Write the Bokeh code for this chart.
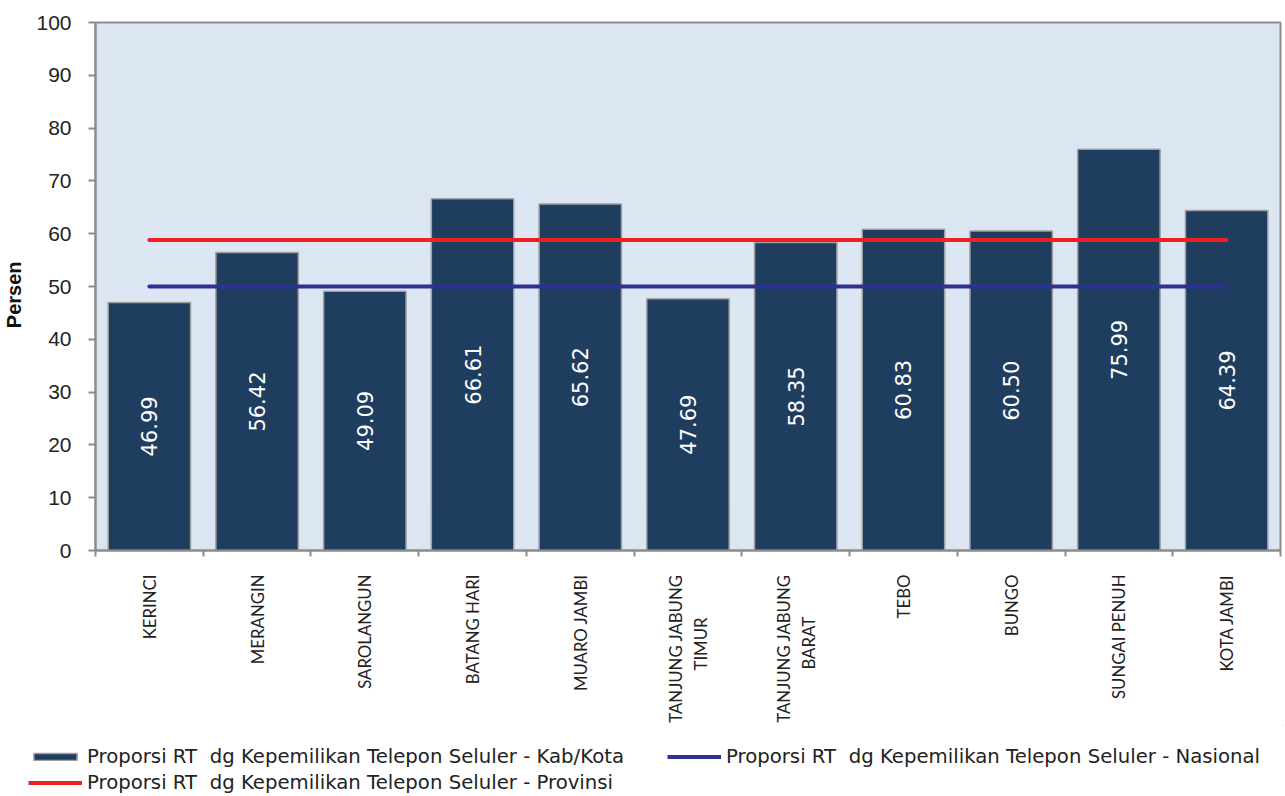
import math
from bokeh.plotting import figure
from bokeh.layouts import column
from bokeh.models import ColumnDataSource, FixedTicker, Legend, LegendItem, Range1d
from bokeh.core.properties import value
from bokeh.embed import file_html
from bokeh.resources import INLINE

NB = "\u00a0"
categories = ["KERINCI", "MERANGIN", "SAROLANGUN", "BATANG HARI", "MUARO JAMBI",
              "TANJUNG JABUNG\nTIMUR" + NB * 10, "TANJUNG JABUNG\nBARAT" + NB * 10,
              "TEBO", "BUNGO", "SUNGAI PENUH", "KOTA JAMBI"]
kab_kota = [46.99, 56.42, 49.09, 66.61, 65.62, 47.69, 58.35, 60.83, 60.50, 75.99, 64.39]
provinsi = 58.8
nasional = 50.0
y_ticks = [0, 10, 20, 30, 40, 50, 60, 70, 80, 90, 100]
legend_labels = ["Proporsi RT  dg Kepemilikan Telepon Seluler - Kab/Kota",
                 "Proporsi RT  dg Kepemilikan Telepon Seluler - Nasional",
                 "Proporsi RT  dg Kepemilikan Telepon Seluler - Provinsi"]

n = len(categories)
xs = list(range(n))

BAR_FILL = "#1f3e5f"
BAR_LINE = "#a0a0a0"
NAS_COLOR = "#2e3192"
PROV_COLOR = "#ee2024"
GRAY = "#8c8c8c"

src = ColumnDataSource(dict(
    x=xs, top=kab_kota, mid=[v / 2 for v in kab_kota],
    lbl=["%.2f" % v for v in kab_kota],
))

p = figure(width=1283, height=725, output_backend="svg", toolbar_location=None,
           x_range=Range1d(-0.5, n - 0.5), y_range=Range1d(0, 100),
           min_border_left=95, min_border_right=3, min_border_top=22,
           min_border_bottom=175)
p.frame_align = False
p.background_fill_color = "#dce6f2"
p.border_fill_color = "white"
p.outline_line_color = GRAY
p.outline_line_width = 2
p.xgrid.visible = False
p.ygrid.visible = False

p.vbar(x="x", top="top", width=0.765, source=src,
       fill_color=BAR_FILL, line_color=BAR_LINE, line_width=1.5)
p.line(xs, [nasional] * n, line_color=NAS_COLOR, line_width=4, line_cap="round")
p.line(xs, [provinsi] * n, line_color=PROV_COLOR, line_width=4, line_cap="round")
p.text(x="x", y="mid", text="lbl", source=src, angle=math.pi / 2,
       text_align="center", text_baseline="middle", text_color="white",
       text_font=value("DejaVu Sans"), text_font_size="21px")

# x axis
xa = p.xaxis[0]
xa.ticker = FixedTicker(ticks=xs, minor_ticks=[i - 0.5 for i in range(n + 1)])
xa.major_label_overrides = {i: c for i, c in enumerate(categories)}
xa.major_label_orientation = math.pi / 2
xa.major_tick_out = 0
xa.major_tick_in = 0
xa.minor_tick_out = 6
xa.minor_tick_in = 0
xa.minor_tick_line_color = GRAY
xa.minor_tick_line_width = 2
xa.axis_line_color = GRAY
xa.axis_line_width = 2
xa.major_label_standoff = 18
xa.major_label_text_font = "Lato"
xa.major_label_text_font_size = "16.8px"
xa.major_label_text_color = "#222222"

# y axis
ya = p.yaxis[0]
ya.ticker = FixedTicker(ticks=y_ticks)
ya.axis_label = "Persen" + NB * 3
ya.axis_label_text_font = "Liberation Sans"
ya.axis_label_text_font_style = "bold"
ya.axis_label_text_font_size = "20px"
ya.axis_label_text_color = "#111111"
ya.axis_label_standoff = 8
ya.major_tick_out = 7
ya.major_tick_in = 0
ya.minor_tick_out = 0
ya.minor_tick_in = 0
ya.major_tick_line_color = GRAY
ya.major_tick_line_width = 2
ya.axis_line_color = GRAY
ya.axis_line_width = 2
ya.major_label_standoff = 17
ya.major_label_text_font = "Liberation Sans"
ya.major_label_text_font_size = "21px"
ya.major_label_text_color = "#222222"

# legend strip (separate figure so it is not clipped by the plot frame);
# its renderers hold the same series but lie outside the strip's ranges
lg = figure(width=1283, height=69, output_backend="svg", toolbar_location=None,
            x_range=Range1d(-3, -2), y_range=Range1d(-3, -2), min_border=0)
lg.frame_align = False
lg.axis.visible = False
lg.grid.visible = False
lg.outline_line_color = None
lg.background_fill_color = None
lg.border_fill_color = "white"
r_bar = lg.vbar(x=xs, top=kab_kota, width=0.77, fill_color=BAR_FILL,
                line_color=BAR_LINE, line_width=1.5)
r_nas = lg.line(xs, [nasional] * n, line_color=NAS_COLOR, line_width=4)
r_prov = lg.line(xs, [provinsi] * n, line_color=PROV_COLOR, line_width=4)
legend = Legend(items=[
    LegendItem(label=legend_labels[0], renderers=[r_bar]),
    LegendItem(label=legend_labels[1], renderers=[r_nas]),
    LegendItem(label=legend_labels[2], renderers=[r_prov]),
], orientation="horizontal", ncols=2, location=(28, 0),
    glyph_width=54, glyph_height=9, label_standoff=5, spacing=3, padding=0,
    label_width=577, label_height=20,
    label_text_font="DejaVu Sans", label_text_font_size="19.7px",
    label_text_color="#222222", border_line_color=None, background_fill_alpha=0)
lg.add_layout(legend, "center")

layout = column(p, lg, spacing=0)
open("out.html", "w").write(file_html(layout, INLINE))
